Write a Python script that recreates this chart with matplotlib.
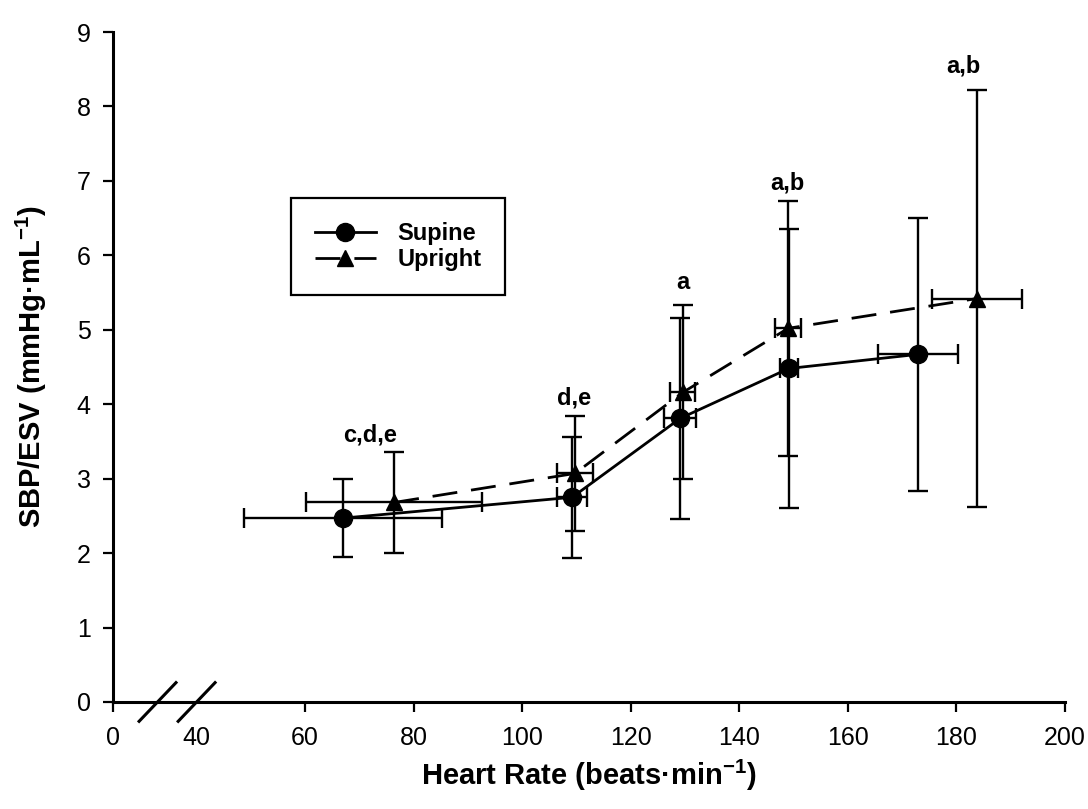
import matplotlib
matplotlib.use("Agg")
import matplotlib.pyplot as plt
from matplotlib.lines import Line2D

plt.rcParams['font.family'] = ['Liberation Sans', 'DejaVu Sans']
plt.rcParams['mathtext.fontset'] = 'custom'
plt.rcParams['mathtext.rm'] = 'Liberation Sans'
plt.rcParams['mathtext.bf'] = 'Liberation Sans:bold'

# Supine
sup_hr = [67.0, 109.2, 129.1, 149.1, 172.9]
sup_hr_err = [18.2, 2.8, 2.9, 1.7, 7.4]
sup_val = [2.47, 2.75, 3.81, 4.48, 4.67]
sup_err = [0.52, 0.81, 1.35, 1.88, 1.83]

# Upright
upr_hr = [76.4, 109.7, 129.6, 149.0, 183.8]
upr_hr_err = [16.2, 3.3, 2.3, 2.4, 8.3]
upr_val = [2.68, 3.07, 4.16, 5.02, 5.42]
upr_err = [0.68, 0.77, 1.17, 1.71, 2.80]

# significance letters
sig_labels = ["c,d,e", "d,e", "a", "a,b", "a,b"]
sig_x = [72.0, 109.6, 129.6, 148.8, 181.2]
sig_y = [3.58, 4.08, 5.64, 6.97, 8.55]

x_ticks = [40, 60, 80, 100, 120, 140, 160, 180, 200]
y_ticks = [0, 1, 2, 3, 4, 5, 6, 7, 8, 9]
x_zero = 24.6  # where "0" sits on the broken axis

fig = plt.figure(figsize=(10.88, 8.09), dpi=100)
ax = fig.add_axes([0.1039, 0.1323, 0.875, 0.8281])

dash = (0, (9, 5))
ax.errorbar(sup_hr, sup_val, yerr=sup_err, xerr=sup_hr_err, color='black',
            lw=2, elinewidth=1.7, capsize=7, capthick=1.7, marker='o',
            markersize=13, ls='-', zorder=3)
ax.errorbar(upr_hr, upr_val, yerr=upr_err, xerr=upr_hr_err, color='black',
            lw=2, elinewidth=1.7, capsize=7, capthick=1.7, marker='^',
            markersize=11, ls=dash, zorder=3)

for lab, xx, yy in zip(sig_labels, sig_x, sig_y):
    ax.text(xx, yy, lab, ha='center', va='center', fontsize=17, fontweight='bold')

ax.set_xlim(x_zero, 200)
ax.set_ylim(0, 9)
ax.set_xticks([x_zero] + x_ticks)
ax.set_xticklabels(['0'] + [str(t) for t in x_ticks])
ax.set_yticks(y_ticks)
ax.tick_params(axis='both', labelsize=18, length=7, width=1.6, direction='out')
ax.tick_params(axis='x', pad=10)
ax.tick_params(axis='y', pad=9)
ax.xaxis.get_major_ticks()[1].tick1line.set_visible(False)

for side in ['top', 'right']:
    ax.spines[side].set_visible(False)
for side in ['left', 'bottom']:
    ax.spines[side].set_linewidth(2.2)

# axis break marks
for cx in [32.8, 40.0]:
    ax.plot([cx - 3.4, cx + 3.4], [-0.26, 0.26], color='black', lw=2.2, clip_on=False, zorder=5)

ax.set_xlabel(r"Heart Rate (beats·min$^{\mathbf{-1}}$)", fontsize=21, fontweight='bold', labelpad=6)
ax.set_ylabel(r"SBP/ESV (mmHg·mL$^{\mathbf{-1}}$)", fontsize=21, fontweight='bold', labelpad=20)

handles = [
    Line2D([], [], color='black', lw=2, marker='o', markersize=13, ls='-'),
    Line2D([], [], color='black', lw=2, marker='^', markersize=11, ls=dash),
]
leg = ax.legend(handles, ['Supine', 'Upright'], loc='upper left',
                bbox_to_anchor=(0.187, 0.752), borderaxespad=0,
                fancybox=False, edgecolor='black', framealpha=1,
                prop={'size': 17, 'weight': 'bold'}, handlelength=2.6,
                borderpad=1.0, labelspacing=0.15, handletextpad=0.9)
leg.get_frame().set_linewidth(1.6)

fig.savefig("out.png", dpi=100)
